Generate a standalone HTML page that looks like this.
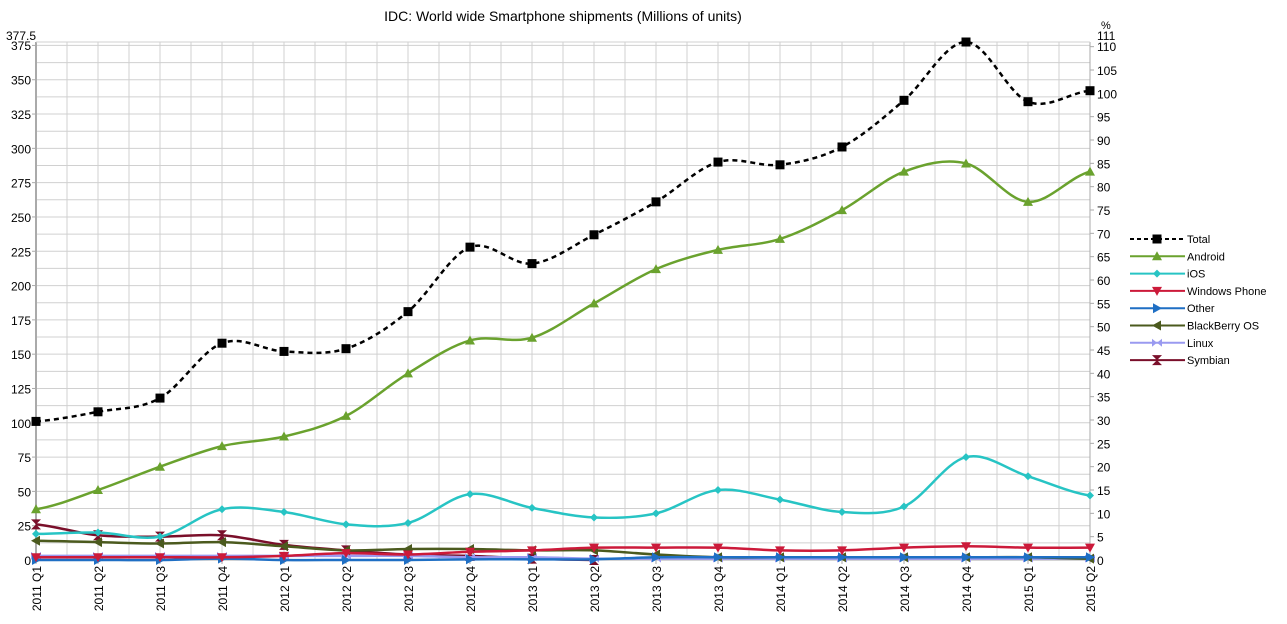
<!DOCTYPE html><html><head><meta charset="utf-8"><style>body{margin:0;background:#fff}svg{font-family:"Liberation Sans",sans-serif;display:block}</style></head><body>
<svg id="s" width="1287" height="624" xmlns="http://www.w3.org/2000/svg"></svg>
<script>
const s=document.getElementById('s');let h='';
const L=36,R=1090,T=42,B=560,st=(R-L)/17;
const X=i=>L+i*st,Y=v=>B-v*(B-T)/377.5;
h+='<text x="563" y="21" font-size="14" text-anchor="middle" fill="#000">IDC: World wide Smartphone shipments (Millions of units)</text>';
for(let v=0;v<=375;v+=12.5){h+=`<line x1="${L}" x2="${R}" y1="${Y(v)}" y2="${Y(v)}" stroke="#d0d0d0"/>`;}
for(let i=0;i<=34;i++){const x=L+i*st/2;h+=`<line x1="${x}" x2="${x}" y1="${T}" y2="${B}" stroke="#d0d0d0"/>`;}
h+=`<line x1="${L}" x2="${L}" y1="${T}" y2="${B}" stroke="#aaa" stroke-width="2"/><line x1="${R}" x2="${R}" y1="${T}" y2="${B}" stroke="#aaa"/><line x1="${L}" x2="${R}" y1="${B}" y2="${B}" stroke="#aaa"/><line x1="${L}" x2="${R}" y1="${T}" y2="${T}" stroke="#d0d0d0"/>`;
for(let v=0;v<=375;v+=25){const yy=v==375?50:Y(v)+5;h+=`<text x="31" y="${yy}" font-size="12" text-anchor="end">${v}</text><line x1="${L-4}" x2="${L}" y1="${Y(v)}" y2="${Y(v)}" stroke="#aaa"/>`;}
h+=`<text x="6" y="40" font-size="12">377.5</text>`;
const Yp=p=>B-p*(B-T)/111;
for(let p=0;p<=110;p+=5){const yy=p==110?51:Yp(p)+5;h+=`<line x1="${R}" x2="${R+4}" y1="${Yp(p)}" y2="${Yp(p)}" stroke="#aaa"/><text x="${R+7}" y="${yy}" font-size="12">${p}</text>`;}
h+=`<text x="${R+7}" y="40" font-size="12">111</text><text x="1101" y="29" font-size="11">%</text>`;
const q=["2011 Q1","2011 Q2","2011 Q3","2011 Q4","2012 Q1","2012 Q2","2012 Q3","2012 Q4","2013 Q1","2013 Q2","2013 Q3","2013 Q4","2014 Q1","2014 Q2","2014 Q3","2014 Q4","2015 Q1","2015 Q2"];
q.forEach((t,i)=>{h+=`<line x1="${X(i)}" x2="${X(i)}" y1="${B}" y2="${B+4}" stroke="#aaa"/><text transform="translate(${X(i)+5},${B+6}) rotate(-90)" font-size="12" text-anchor="end">${t}</text>`;});
function path(d){let p=`M${X(0)},${Y(d[0])}`;for(let i=0;i<d.length-1;i++){const p0=d[Math.max(i-1,0)],p1=d[i],p2=d[i+1],p3=d[Math.min(i+2,d.length-1)];const c1x=X(i)+st/3,c2x=X(i+1)-st/3;const c1y=Y(p1+(p2-p0)/6),c2y=Y(p2-(p3-p1)/6);p+=`C${c1x},${c1y} ${c2x},${c2y} ${X(i+1)},${Y(p2)}`;}return p;}
function mk(t,x,y,c){switch(t){case'sq':return `<rect x="${x-4.5}" y="${y-4.5}" width="9" height="9" fill="${c}"/>`;case'up':return `<polygon points="${x},${y-5} ${x-5},${y+4} ${x+5},${y+4}" fill="${c}"/>`;case'dn':return `<polygon points="${x},${y+5} ${x-5},${y-4} ${x+5},${y-4}" fill="${c}"/>`;case'di':return `<polygon points="${x},${y-4} ${x+4},${y} ${x},${y+4} ${x-4},${y}" fill="${c}"/>`;case'rt':return `<polygon points="${x+5},${y} ${x-4},${y-5} ${x-4},${y+5}" fill="${c}"/>`;case'lt':return `<polygon points="${x-5},${y} ${x+4},${y-5} ${x+4},${y+5}" fill="${c}"/>`;case'bt':return `<polygon points="${x-5},${y-4} ${x},${y} ${x-5},${y+4}" fill="${c}"/><polygon points="${x+5},${y-4} ${x},${y} ${x+5},${y+4}" fill="${c}"/>`;case'hg':return `<polygon points="${x-5},${y-5} ${x+5},${y-5} ${x},${y} ${x+5},${y+5} ${x-5},${y+5} ${x},${y}" fill="${c}"/>`;}}
const S=[
["Total","#000","sq",[101,108,118,158,152,154,181,228,216,237,261,290,288,301,335,377.5,334,342],1],
["Android","#6aa22e","up",[37,51,68,83,90,105,136,160,162,187,212,226,234,255,283,289,261,283]],
["iOS","#27c4c4","di",[19,20,17,37,35,26,27,48,38,31,34,51,44,35,39,75,61,47]],
["Windows Phone","#cc1a3a","dn",[2,2,2,2,3,5,4,6,7,9,9,9,7,7,9,10,9,9]],
["Other","#1f6fc4","rt",[0,0,0,1,0,0,0,0.5,0.5,0.5,2,2,2,2,2,2,2,2]],
["BlackBerry OS","#4b5a1e","lt",[14,13,12,13,10,7,8,8,7,7,4,2,2,2,2,2,2,1]],
["Linux","#9a9af0","bt",[3,3,3,3,3,3,3,2,2,1,1,1,1,1,1,1,1,1]],
["Symbian","#7a0f2a","hg",[26,18,17,18,11,7,4,3,1,0]]];
[...S].reverse().forEach(([n,c,m,d,dash])=>{h+=`<path d="${path(d)}" fill="none" stroke="${c}" stroke-width="2.5" ${dash?'stroke-dasharray="5,4"':''}/>`;d.forEach((v,i)=>h+=mk(m,X(i),Y(v),c));});
S.forEach(([n,c,m,d,dash],k)=>{const y=239+k*17.3;h+=`<line x1="1130" x2="1185" y1="${y}" y2="${y}" stroke="${c}" stroke-width="2" ${dash?'stroke-dasharray="4,3"':''}/>`+mk(m,1157,y,c)+`<text x="1187" y="${y+4}" font-size="11">${n}</text>`;});
s.innerHTML=h;
</script></body></html>
